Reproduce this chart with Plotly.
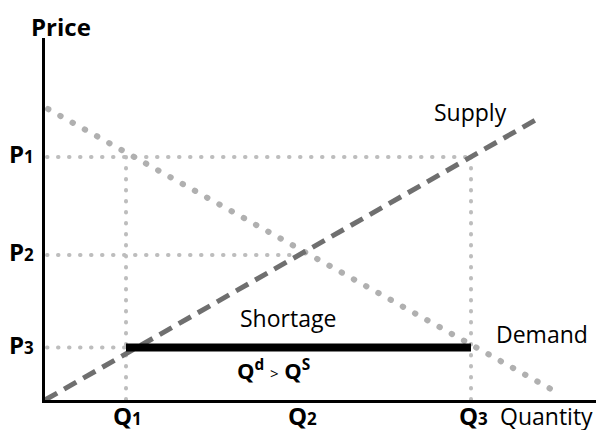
import plotly.graph_objects as go

# quantities and prices (arbitrary units)
q_levels = [16.2, 51.0, 85.2]
p_levels = [48.6, 29.0, 10.5]
q_labels = ["Q<span style='font-size:17px'>1</span>",
            "Q<span style='font-size:17px'>2</span>",
            "Q<span style='font-size:17px'>3</span>"]
p_labels = ["P<span style='font-size:17px'>1</span>",
            "P<span style='font-size:17px'>2</span>",
            "P<span style='font-size:17px'>3</span>"]

supply_q = [0.0, 98.8]
supply_p = [0.0, 56.4]
demand_q = [0.6, 102.6]
demand_p = [58.2, 1.4]

Q1, Q2, Q3 = q_levels
P1, P2, P3 = p_levels

X_MAX, Y_MAX = 110.2, 72.4
FONT = "Open Sans"
guide = dict(color="#bdbdbd", width=4, dash="0.5px,10.5px")

fig = go.Figure()

# dotted guide lines
fig.add_trace(go.Scatter(x=[0.4, Q3], y=[P1, P1], mode="lines", line=guide))
fig.add_trace(go.Scatter(x=[Q1, Q1], y=[P1, 0], mode="lines", line=guide))
fig.add_trace(go.Scatter(x=[Q3, Q3], y=[P1, 0], mode="lines", line=guide))
fig.add_trace(go.Scatter(x=[0.4, Q2], y=[P2, P2], mode="lines", line=guide))
fig.add_trace(go.Scatter(x=[0.4, Q1], y=[P3, P3], mode="lines", line=guide))

# demand (dotted) and supply (dashed)
fig.add_trace(go.Scatter(x=demand_q, y=demand_p, mode="lines",
                         line=dict(color="#b0b0b0", width=6, dash="0.5px,13.5px")))
fig.add_trace(go.Scatter(x=supply_q, y=supply_p, mode="lines",
                         line=dict(color="#6f6f6f", width=5, dash="14px,8px")))

# shortage bar
fig.add_trace(go.Scatter(x=[Q1, Q3], y=[P3, P3], mode="lines",
                         line=dict(color="black", width=8)))

ann = []
def txt(x, y, t, size=23, bold=False, xanchor="center"):
    # positions given in data units, placed via paper coords so labels
    # outside the axes still show
    ann.append(dict(x=x / X_MAX, y=y / Y_MAX, xref="paper", yref="paper",
                    text=t, showarrow=False, xanchor=xanchor, yanchor="middle",
                    font=dict(family=FONT, size=size, color="black",
                              weight="bold" if bold else "normal")))

txt(3.2, 74.8, "Price", size=24, bold=True)
for p, lab in zip(p_levels, p_labels):
    txt(-4.7, p + 0.7, lab, size=24, bold=True)
for q, lab in zip(q_levels, q_labels):
    txt(q + 0.4, -3.1, lab, size=24, bold=True)
txt(90.6, -3.1, "Quantity", xanchor="left")
txt(85.0, 57.6, "Supply")
txt(99.4, 13.2, "Demand")
txt(48.6, 16.4, "Shortage")
txt(45.6, 6.2, "Q<sup>d</sup> <span style='font-size:15px;font-weight:normal'>&gt;</span> Q<sup>S</sup>",
    size=22, bold=True)

fig.update_layout(
    width=596, height=430,
    margin=dict(l=45, r=0, t=38, b=30),
    paper_bgcolor="white", plot_bgcolor="white",
    showlegend=False,
    annotations=ann,
    xaxis=dict(range=[0, X_MAX], showgrid=False, zeroline=False, showticklabels=False,
               showline=True, linecolor="black", linewidth=2.5, ticks=""),
    yaxis=dict(range=[0, Y_MAX], showgrid=False, zeroline=False, showticklabels=False,
               showline=True, linecolor="black", linewidth=2.5, ticks=""),
)

# drop the page margin, and round caps so the dotted lines show as dots
post = """
document.body.style.margin = '0';
document.querySelectorAll('path.js-line').forEach(function(p){
  var d = p.style.strokeDasharray || '';
  if (d.indexOf('0.5px') === 0) { p.style.strokeLinecap = 'round'; }
});
"""

fig.write_html("out.html", post_script=post, config={"displayModeBar": False})
